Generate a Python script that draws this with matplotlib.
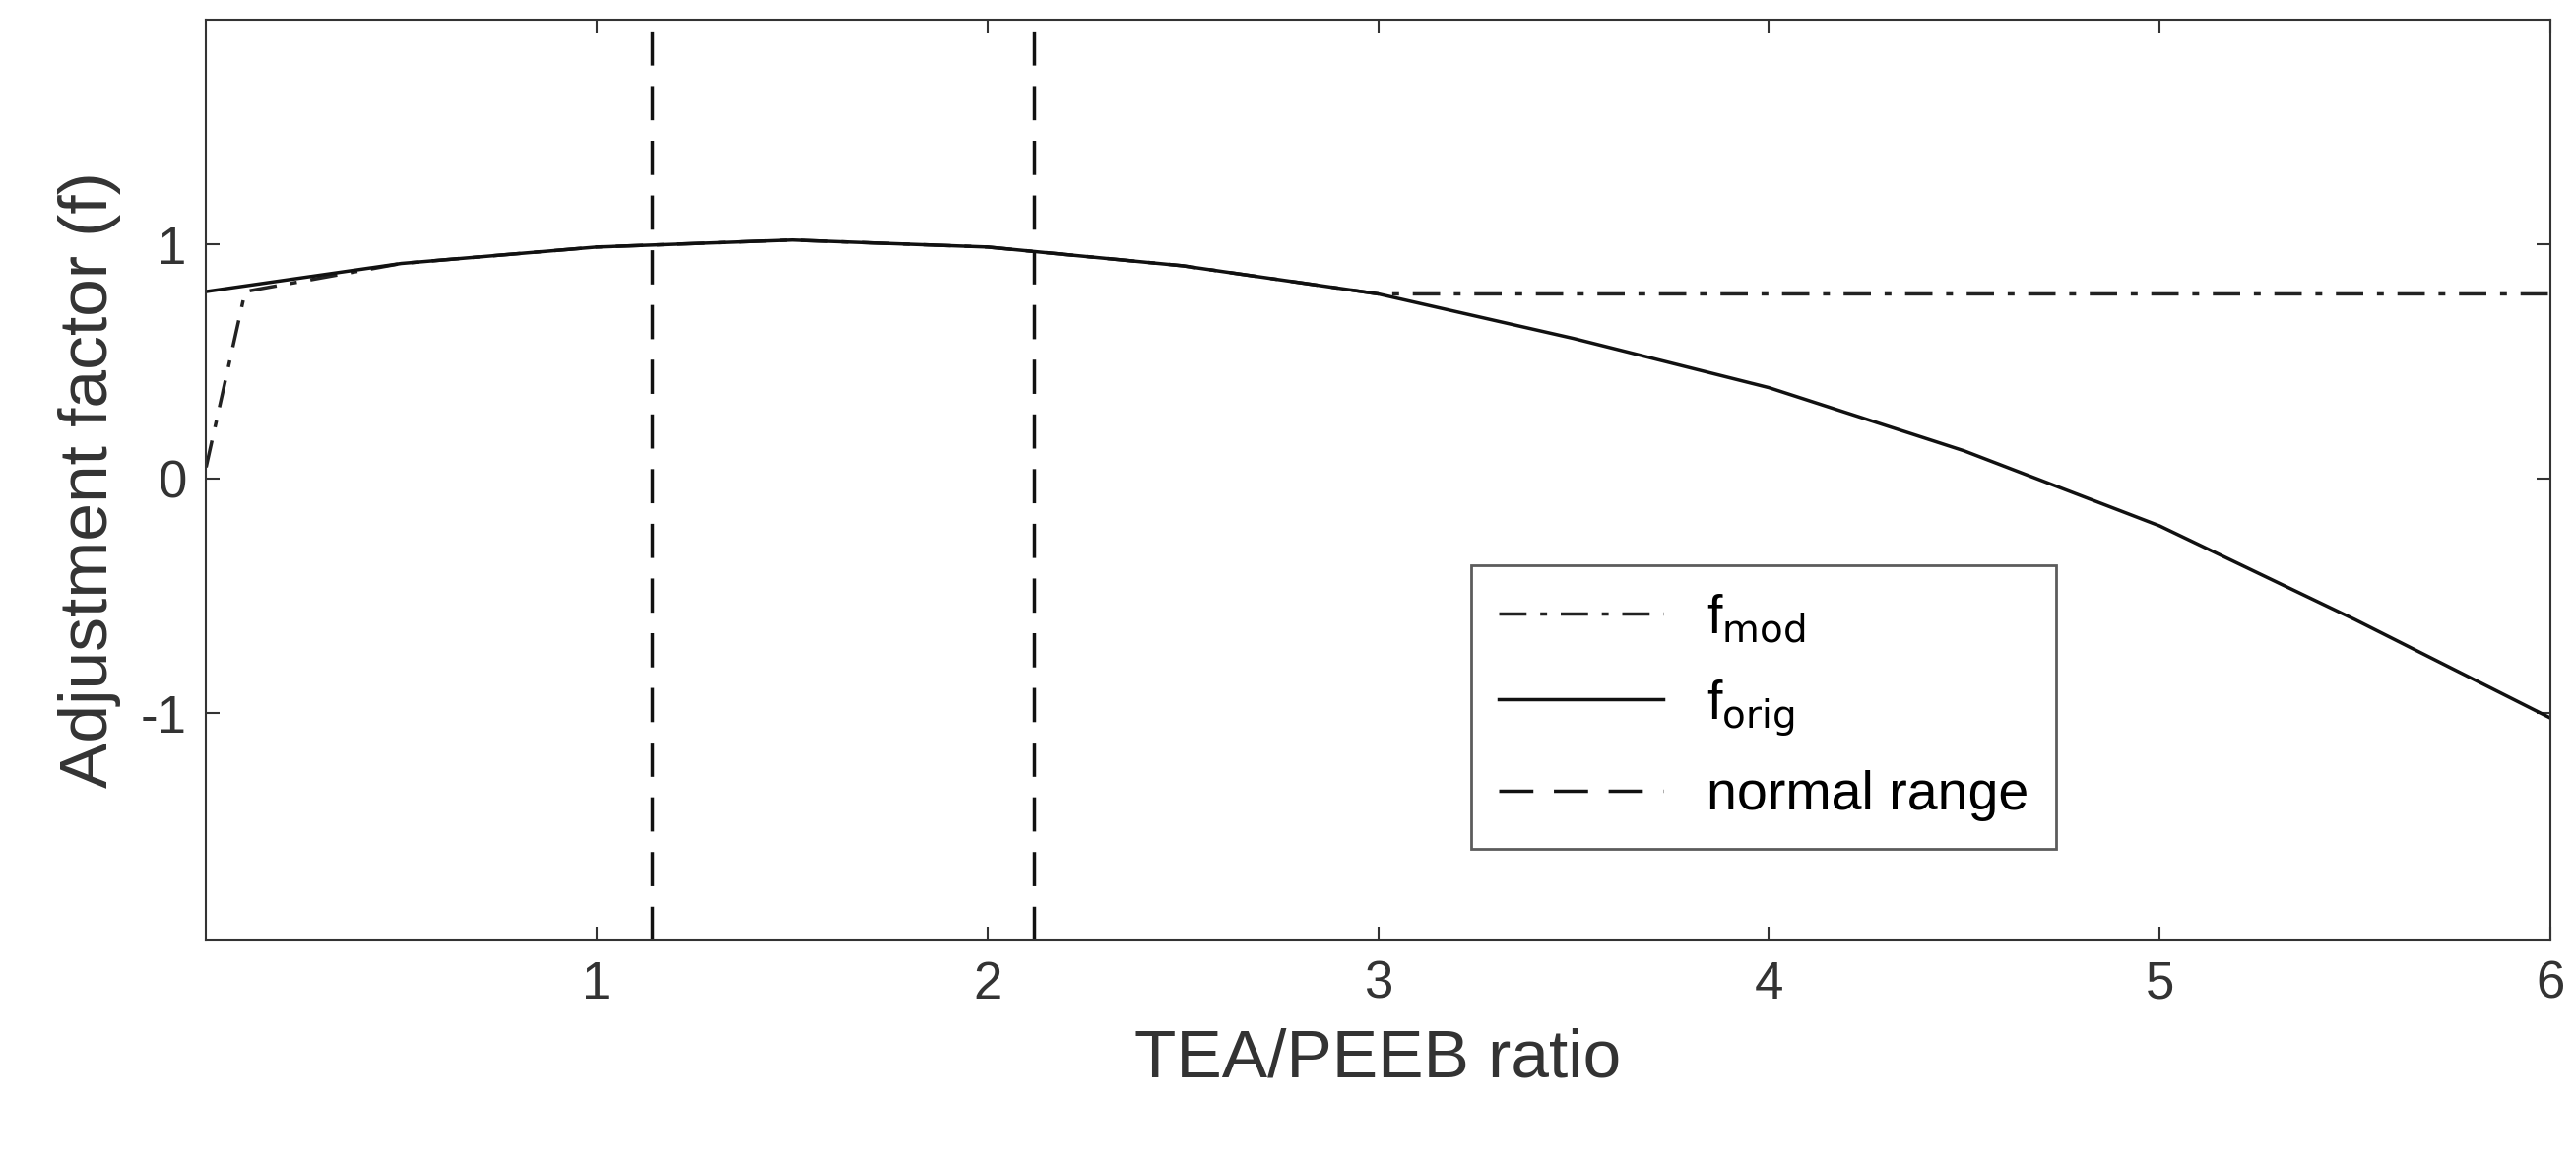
import matplotlib.pyplot as plt

# ---- data ----
ratio = [0, 0.5, 1, 1.5, 2, 2.5, 3, 3.5, 4, 4.5, 5, 5.5, 6]
f_orig = [0.8, 0.92, 0.99, 1.02, 0.99, 0.91, 0.79, 0.6, 0.39, 0.12, -0.2, -0.6, -1.02]

mod_x = [0, 0.1, 0.5, 1, 1.5, 2, 2.5, 3, 6]
f_mod = [0.05, 0.8, 0.92, 0.99, 1.02, 0.99, 0.91, 0.79, 0.79]

normal_range = [1.14, 2.12]

plt.rcParams['font.family'] = ['Liberation Sans', 'DejaVu Sans']
plt.rcParams['axes.unicode_minus'] = False

fig = plt.figure(figsize=(26.16, 11.82), dpi=100)
ax = fig.add_axes([0.08, 0.192, 0.91, 0.791])

ax.plot(mod_x, f_mod, color='#222222', lw=2.5, ls=(0, (8, 4, 2, 4)), label=r'f$_{\mathrm{mod}}$')
ax.plot(ratio, f_orig, color='#111111', lw=2.5, label=r'f$_{\mathrm{orig}}$')
for i, xv in enumerate(normal_range):
    ax.axvline(xv, color='#111111', lw=2.5, ls=(0, (10, 6)),
               label='normal range' if i == 0 else None)

ax.set_xlim(0, 6)
ax.set_ylim(-1.97, 1.96)
ax.set_xticks([1, 2, 3, 4, 5, 6])
ax.set_yticks([-1, 0, 1])
ax.tick_params(labelsize=38, direction='in', length=10, width=1.5, colors='#333333',
               top=True, right=True, pad=14)
for s in ax.spines.values():
    s.set_linewidth(1.5)
    s.set_color('#333333')
ax.set_xlabel('TEA/PEEB ratio', fontsize=50, color='#333333', labelpad=14)
ax.set_ylabel('Adjustment factor (f)', fontsize=50, color='#333333', labelpad=14)

leg = ax.legend(loc='lower right', bbox_to_anchor=(0.801, 0.07), fontsize=40,
                fancybox=False, edgecolor='#333333', handlelength=3.0,
                labelspacing=0.6, borderpad=0.5)
leg.get_frame().set_linewidth(2)

fig.savefig('out.png', dpi=100)
